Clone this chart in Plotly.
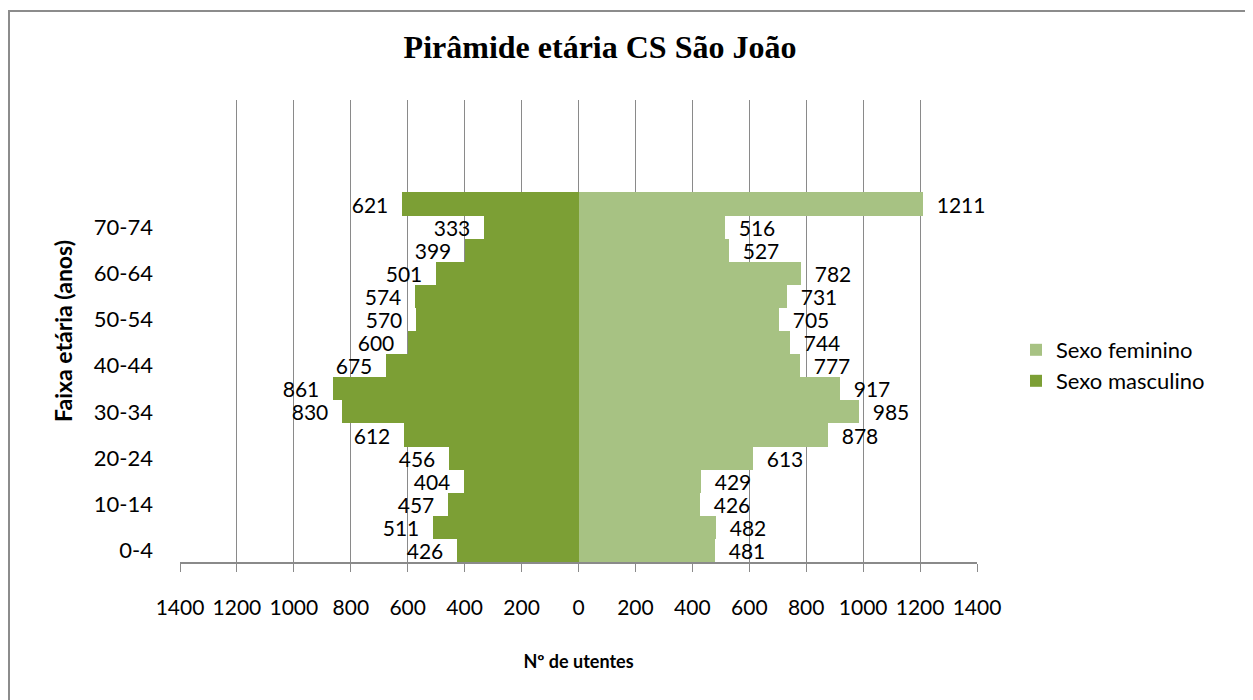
import plotly.graph_objects as go

age_groups = ["0-4", "5-9", "10-14", "15-19", "20-24", "25-29", "30-34", "35-39",
              "40-44", "45-49", "50-54", "55-59", "60-64", "65-69", "70-74", "75+"]
female = [481, 482, 426, 429, 613, 878, 985, 917, 777, 744, 705, 731, 782, 527, 516, 1211]
male = [426, 511, 457, 404, 456, 612, 830, 861, 675, 600, 570, 574, 501, 399, 333, 621]
n_slots = 20  # 16 groups + 4 empty slots on the category axis
x_ticks = list(range(-1400, 1401, 200))

# page offset: the html body has an 8px margin
OFF = 8
W, H = 1253 - OFF, 700 - OFF
PL, PR, PT, PB = 180, 977, 100, 562  # plot area in page pixels
L, R, T, B = PL - OFF, W - (PR - OFF), PT - OFF, H - (PB - OFF)
pw, ph = PR - PL, PB - PT

def px_to_paper_x(px):
    return (px - PL) / pw

def px_to_paper_y(py):
    return (PB - py) / ph

FONT = "Lato, 'Open Sans', sans-serif"
GRID = "#8a8a8a"
PAD = "\u00a0\u00a0"

ypos = list(range(len(age_groups)))

fig = go.Figure()
fig.add_trace(go.Bar(
    y=ypos, x=female, orientation="h", name="Sexo feminino",
    marker=dict(color="#a7c283", line=dict(width=0)),
    text=[PAD + str(v) for v in female], textposition="outside",
    textfont=dict(size=21, color="#000000", family=FONT),
    constraintext="none",
    cliponaxis=False, legend="legend", showlegend=True,
))
fig.add_trace(go.Bar(
    y=ypos, x=[-v for v in male], orientation="h", name="Sexo masculino",
    marker=dict(color="#7c9f35", line=dict(width=0)),
    text=[str(v) + PAD for v in male], textposition="outside",
    textfont=dict(size=21, color="#000000", family=FONT),
    constraintext="none",
    cliponaxis=False, legend="legend2", showlegend=True,
))

fig.update_layout(
    width=W, height=H,
    margin=dict(l=L, r=R, t=T, b=B, autoexpand=False),
    paper_bgcolor="white", plot_bgcolor="white",
    barmode="overlay", bargap=0,
    showlegend=True,
    font=dict(family=FONT, size=18, color="#000000"),
    title=dict(text="<b>Pirâmide etária CS São João</b>",
               font=dict(family="'Liberation Serif', 'Times New Roman', serif", size=32, color="#000000"),
               x=(600 - OFF) / W, xref="container", xanchor="center",
               y=1 - (47 - OFF) / H, yref="container", yanchor="middle"),
    xaxis=dict(
        range=[-1400, 1400], tickvals=x_ticks, ticktext=[str(abs(v)) for v in x_ticks],
        showgrid=True, gridcolor=GRID, gridwidth=1, zeroline=False,
        showline=True, linecolor=GRID, linewidth=2,
        ticks="outside", ticklen=8, tickcolor=GRID, tickwidth=1,
        ticklabelstandoff=18,
        tickfont=dict(size=21, family=FONT),
        title=dict(text="<b>Nº de utentes</b>", font=dict(size=18, family=FONT), standoff=37),
    ),
    yaxis=dict(
        range=[-0.5, n_slots - 0.5],
        tickvals=ypos[::2], ticktext=age_groups[::2],
        showgrid=False, zeroline=False, showline=False, ticks="",
        ticklabelstandoff=26,
        tickfont=dict(size=22, family=FONT),
        title=dict(text="<b>Faixa etária (anos)</b>", font=dict(size=23, family=FONT), standoff=14),
    ),
    yaxis2=dict(
        overlaying="y", anchor="free", position=0.5,
        range=[-0.5, n_slots - 0.5],
        tickvals=[i - 0.5 for i in range(n_slots + 1)],
        showticklabels=False, showgrid=False, zeroline=False,
        showline=True, linecolor=GRID, linewidth=2,
        ticks="outside", ticklen=7, tickcolor=GRID, tickwidth=1,
    ),
    legend=dict(visible=True, x=px_to_paper_x(1016), y=px_to_paper_y(350), xanchor="left", yanchor="middle",
                font=dict(size=22, family=FONT), bgcolor="rgba(0,0,0,0)"),
    legend2=dict(visible=True, x=px_to_paper_x(1016), y=px_to_paper_y(381), xanchor="left", yanchor="middle",
                 font=dict(size=22, family=FONT), bgcolor="rgba(0,0,0,0)"),
    shapes=[dict(type="rect", xref="paper", yref="paper",
                 x0=px_to_paper_x(OFF + 1), x1=px_to_paper_x(1300),
                 y0=px_to_paper_y(760), y1=px_to_paper_y(11),
                 line=dict(color="#8c8c8c", width=2), fillcolor="rgba(0,0,0,0)", layer="below")],
)

fig.write_html("out.html")
